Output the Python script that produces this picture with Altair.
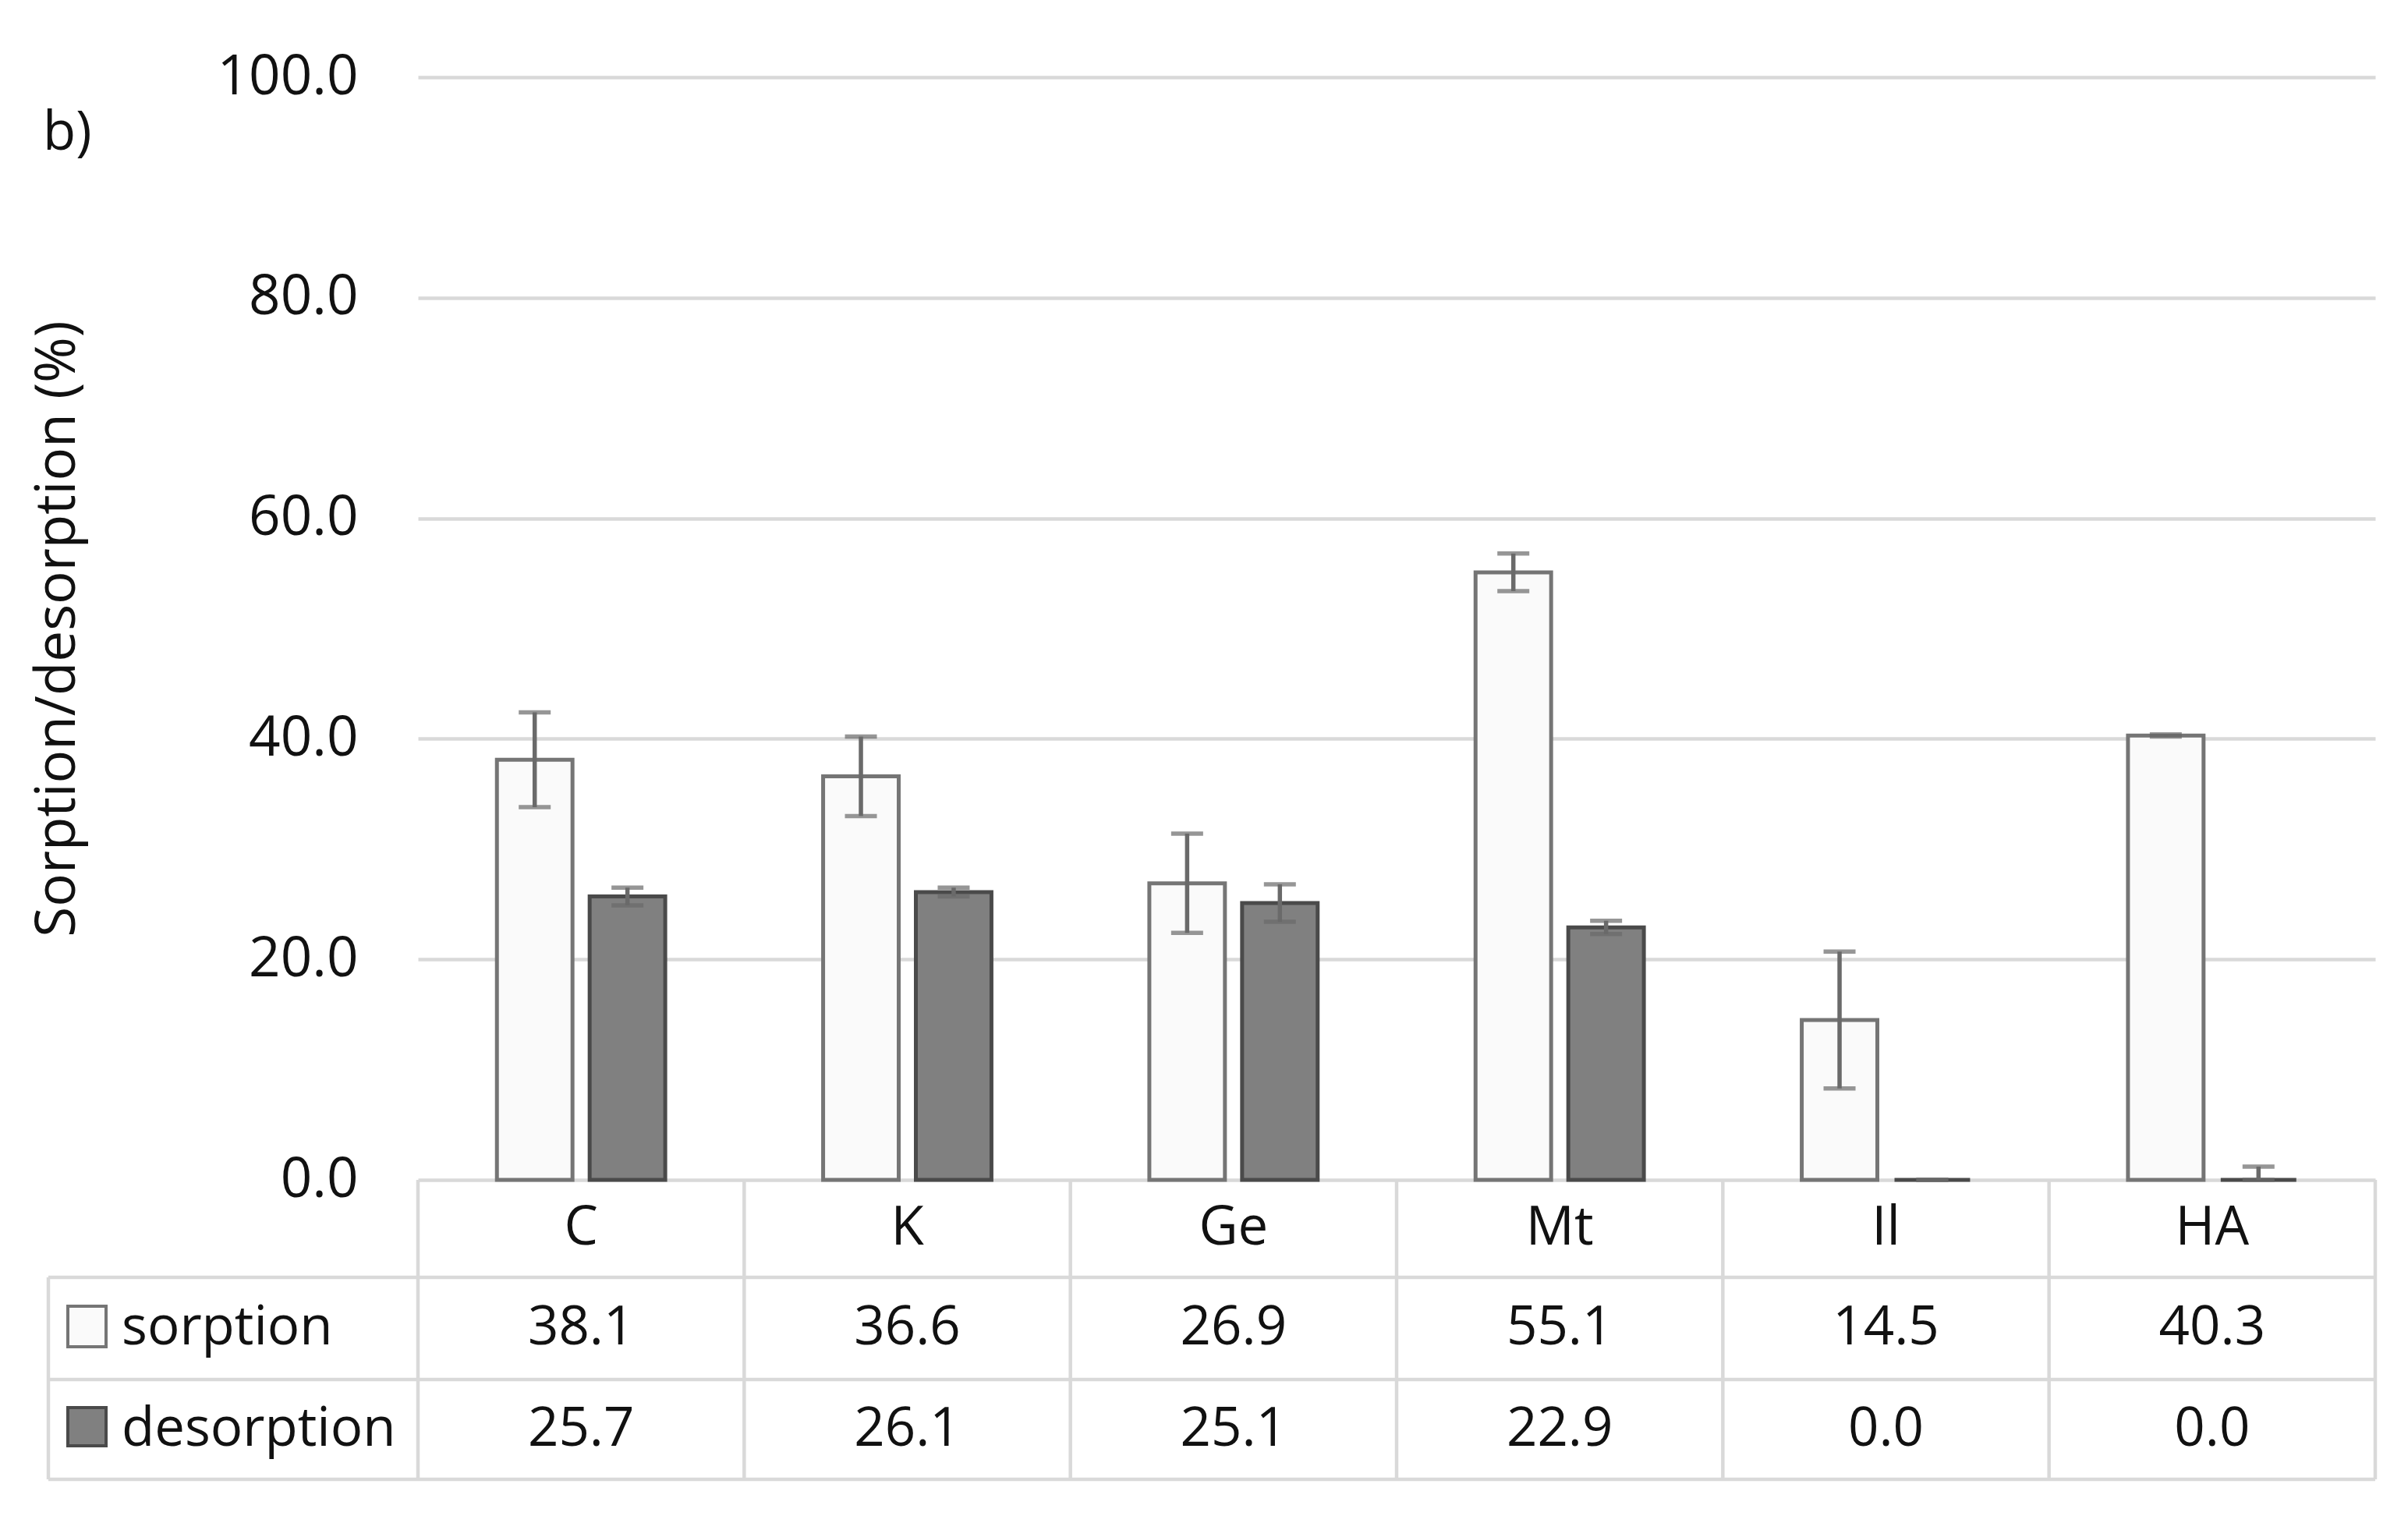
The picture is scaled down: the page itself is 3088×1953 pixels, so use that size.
import altair as alt
import pandas as pd

# ---------------- data ----------------
categories = ["C", "K", "Ge", "Mt", "Il", "HA"]
series_names = ["sorption", "desorption"]
sorption = [38.1, 36.6, 26.9, 55.1, 14.5, 40.3]
desorption = [25.7, 26.1, 25.1, 22.9, 0.0, 0.0]
sorption_err = [4.3, 3.6, 4.5, 1.7, 6.2, 0.1]
desorption_err = [0.8, 0.4, 1.7, 0.6, 0.0, 1.2]
y_ticks = [0, 20, 40, 60, 80, 100]
panel_label = ["b)"]
y_title = "Sorption/desorption (%)"
col_edges = list(range(len(categories) + 1))   # table column boundaries (index units)

rows = []
for s, vals, errs in [("sorption", sorption, sorption_err),
                      ("desorption", desorption, desorption_err)]:
    for c, v, e in zip(categories, vals, errs):
        rows.append({"category": c, "series": s, "value": v, "err": e,
                     "lo": max(0.0, v - e), "hi": v + e})
df = pd.DataFrame(rows)
cat_df = pd.DataFrame({"category": categories})
lab_df = pd.DataFrame({"label": panel_label})
edge_df = pd.DataFrame({"edge": col_edges})

# ---------------- layout / style ----------------
W, H = 2510, 1414
FONT = "Open Sans"
FS = 69
TXT = "#111111"
GRID = "#d9d9d9"
LW = 4.5
ERR = "#6a6a6a"
PI, PO = 0.484, 0.242
ROW1, ROW2, ROW3 = 125, 256, 384       # table row bottoms below the plot
LEFT = -474                            # left edge of the label column

x_scale = alt.Scale(domain=categories, paddingInner=PI, paddingOuter=PO)
x_enc = alt.X("category:N", sort=categories, axis=None, scale=x_scale)
xoff = alt.XOffset("series:N", sort=series_names,
                   scale=alt.Scale(domain=series_names, paddingInner=0.185, paddingOuter=0))
y_scale = alt.Scale(domain=[0, 100], nice=False)
fill_scale = alt.Scale(domain=series_names, range=["#fafafa", "#808080"])
stroke_scale = alt.Scale(domain=series_names, range=["#757575", "#4a4a4a"])

y_axis = alt.Axis(values=y_ticks, format=".1f", grid=True, gridColor=GRID, gridWidth=LW,
                  domain=False, ticks=False, labelFontSize=71, labelFont=FONT,
                  labelLimit=500, labelColor=TXT, labelPadding=77, titleFontSize=71,
                  titleFont=FONT, titleLimit=2000,
                  titleFontWeight="normal", titleColor=TXT, titleX=-462, titleY=H / 2,
                  titleAngle=-90, titleBaseline="middle", titleAlign="center")

base = alt.Chart(df)

bars = base.mark_bar(strokeWidth=5).encode(
    x=x_enc, xOffset=xoff,
    y=alt.Y("value:Q", scale=y_scale, axis=y_axis, title=y_title),
    fill=alt.Fill("series:N", scale=fill_scale, legend=None),
    stroke=alt.Stroke("series:N", scale=stroke_scale, legend=None),
)

err_rule = base.mark_rule(strokeWidth=5.5, color=ERR).encode(
    x=x_enc, xOffset=xoff,
    y=alt.Y("lo:Q", scale=y_scale, title=y_title), y2="hi:Q")
cap_hi = base.mark_tick(size=41, thickness=5.5, color=ERR).encode(
    x=x_enc, xOffset=xoff, y=alt.Y("hi:Q", scale=y_scale, title=y_title))
cap_lo = base.mark_tick(size=41, thickness=5.5, color=ERR).encode(
    x=x_enc, xOffset=xoff, y=alt.Y("lo:Q", scale=y_scale, title=y_title))

# ---------------- table ----------------
vlines = alt.Chart(edge_df).mark_rule(color=GRID, strokeWidth=LW).encode(
    x=alt.X("edge:Q", axis=None,
            scale=alt.Scale(domain=[0, len(categories)], nice=False, zero=False)),
    y=alt.value(H), y2=alt.value(H + ROW3))
vline_left = alt.Chart(lab_df).mark_rule(color=GRID, strokeWidth=LW).encode(
    x=alt.value(LEFT), y=alt.value(H + ROW1), y2=alt.value(H + ROW3))
hlines = [alt.Chart(lab_df).mark_rule(color=GRID, strokeWidth=LW).encode(
    x=alt.value(LEFT), x2=alt.value(W), y=alt.value(H + r)) for r in (ROW1, ROW2, ROW3)]
grid_layer = alt.layer(vlines, vline_left, *hlines)

header = alt.Chart(cat_df).mark_text(font=FONT, fontSize=FS, color=TXT, baseline="middle").encode(
    x=x_enc, y=alt.value(H + 62), text="category:N")
val_s = base.transform_filter(alt.datum.series == "sorption").mark_text(
    font=FONT, fontSize=FS, color=TXT, baseline="middle").encode(
    x=x_enc, y=alt.value(H + 190), text=alt.Text("value:Q", format=".1f"))
val_d = base.transform_filter(alt.datum.series == "desorption").mark_text(
    font=FONT, fontSize=FS, color=TXT, baseline="middle").encode(
    x=x_enc, y=alt.value(H + 320), text=alt.Text("value:Q", format=".1f"))

ser_df = pd.DataFrame({"series": series_names})
lab_s = alt.Chart(ser_df).transform_filter(alt.datum.series == "sorption").mark_text(
    font=FONT, fontSize=FS, color=TXT, baseline="middle", align="left").encode(
    x=alt.value(-380), y=alt.value(H + 190), text="series:N")
lab_d = alt.Chart(ser_df).transform_filter(alt.datum.series == "desorption").mark_text(
    font=FONT, fontSize=FS, color=TXT, baseline="middle", align="left").encode(
    x=alt.value(-380), y=alt.value(H + 320), text="series:N")
sw_s = alt.Chart(ser_df).transform_filter(alt.datum.series == "sorption").mark_rect(
    strokeWidth=4).encode(
    x=alt.value(-449), x2=alt.value(-400), y=alt.value(H + 162), y2=alt.value(H + 214),
    fill=alt.Fill("series:N", scale=fill_scale, legend=None),
    stroke=alt.Stroke("series:N", scale=stroke_scale, legend=None))
sw_d = alt.Chart(ser_df).transform_filter(alt.datum.series == "desorption").mark_rect(
    strokeWidth=4).encode(
    x=alt.value(-449), x2=alt.value(-400), y=alt.value(H + 292), y2=alt.value(H + 341),
    fill=alt.Fill("series:N", scale=fill_scale, legend=None),
    stroke=alt.Stroke("series:N", scale=stroke_scale, legend=None))

plabel = alt.Chart(lab_df).mark_text(font=FONT, fontSize=FS, color=TXT,
                                     align="left", baseline="alphabetic").encode(
    x=alt.value(-481), y=alt.value(93), text="label:N")

main_layer = alt.layer(
    bars, err_rule, cap_hi, cap_lo,
    header, val_s, val_d, lab_s, lab_d, sw_s, sw_d, plabel,
)

chart = alt.layer(grid_layer, main_layer).resolve_scale(x="independent").properties(
    width=W, height=H,
    autosize=alt.AutoSizeParams(type="none"),
    padding={"left": 528, "top": 91, "right": 34, "bottom": 432},
    background="white",
).configure_view(strokeWidth=0)

chart.save("out.html", embed_options={"renderer": "svg", "actions": False})
